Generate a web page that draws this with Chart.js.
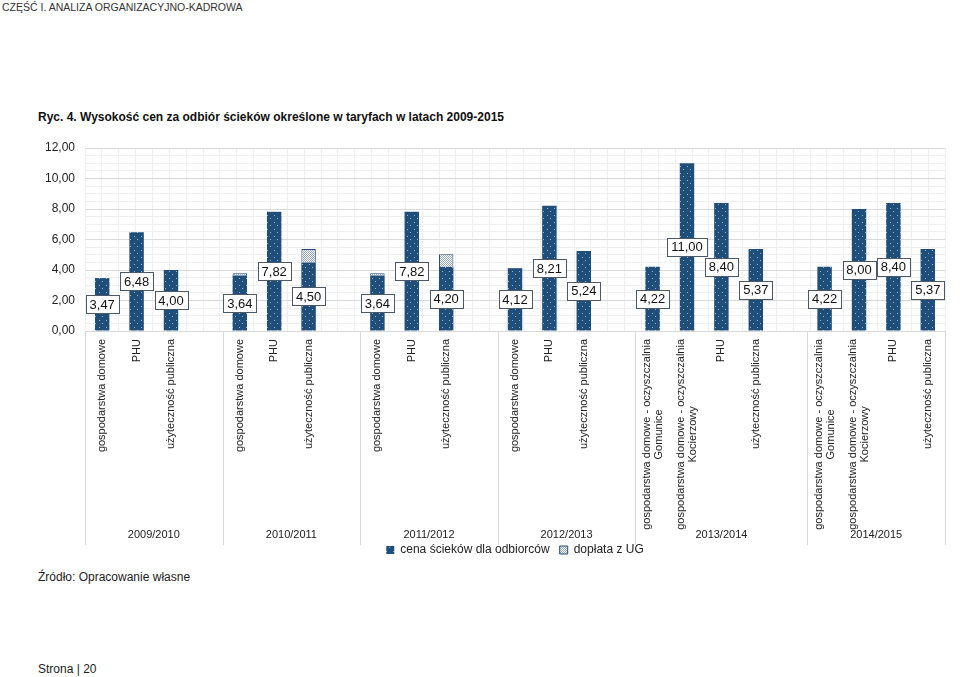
<!DOCTYPE html>
<html lang="pl">
<head>
<meta charset="utf-8">
<title>Ryc. 4. Wysokość cen za odbiór ścieków</title>
<script src="https://cdn.jsdelivr.net/npm/chart.js@4.4.1/dist/chart.umd.min.js"></script>
<style>
    body {
        margin: 0;
        width: 960px;
        height: 677px;
        position: relative;
        overflow: hidden;
        background: #fff;
        color: #222;
        font-family: 'Liberation Sans', Arial, sans-serif;
    }
    .txt {
        position: absolute;
        font-size: 12px;
        line-height: 14px;
        white-space: nowrap;
    }
    #header { left: 2px; top: 0; color: #333; font-size: 10.5px; }
    #title { left: 38px; top: 110px; font-weight: bold; color: #111; }
    #source { left: 38px; top: 570px; }
    #page { left: 38px; top: 662px; }
    #chartBox { position: absolute; left: 0; top: 130px; width: 960px; height: 436px; }
</style>
</head>
<body>
<div class="txt" id="header">CZĘŚĆ I. ANALIZA ORGANIZACYJNO-KADROWA</div>
<div class="txt" id="title">Ryc. 4. Wysokość cen za odbiór ścieków określone w taryfach w latach 2009-2015</div>
<div id="chartBox"><canvas id="priceChart"></canvas></div>
<div class="txt" id="source">Źródło: Opracowanie własne</div>
<div class="txt" id="page">Strona | 20</div>

<script>
const FONT = "'Liberation Sans', Arial, sans-serif";

// Categories (empty strings are the gaps between year groups)
const categories = [
    'gospodarstwa domowe', 'PHU', 'użyteczność publiczna', '',
    'gospodarstwa domowe', 'PHU', 'użyteczność publiczna', '',
    'gospodarstwa domowe', 'PHU', 'użyteczność publiczna', '',
    'gospodarstwa domowe', 'PHU', 'użyteczność publiczna', '',
    ['gospodarstwa domowe - oczyszczalnia', 'Gomunice'],
    ['gospodarstwa domowe - oczyszczalnia', 'Kocierzowy'],
    'PHU', 'użyteczność publiczna', '',
    ['gospodarstwa domowe - oczyszczalnia', 'Gomunice'],
    ['gospodarstwa domowe - oczyszczalnia', 'Kocierzowy'],
    'PHU', 'użyteczność publiczna'
];

const priceValues = [
    3.47, 6.48, 4.00, null,
    3.64, 7.82, 4.50, null,
    3.64, 7.82, 4.20, null,
    4.12, 8.21, 5.24, null,
    4.22, 11.00, 8.40, 5.37, null,
    4.22, 8.00, 8.40, 5.37
];

const subsidyValues = [
    null, null, null, null,
    0.14, null, 0.87, null,
    0.14, null, 0.84, null,
    null, null, null, null,
    null, null, null, null, null,
    null, null, null, null
];

const yearLabels = ['2009/2010', '2010/2011', '2011/2012', '2012/2013', '2013/2014', '2014/2015'];
const yearSlots = [4, 4, 4, 4, 5, 4];

const seriesNames = ['cena ścieków dla odbiorców', 'dopłata z UG'];

function dotPattern() {
    const c = document.createElement('canvas');
    c.width = 7;
    c.height = 7;
    const g = c.getContext('2d');
    g.fillStyle = '#1f4e79';
    g.fillRect(0, 0, 7, 7);
    g.fillStyle = '#8fb4d9';
    g.fillRect(1, 1, 1, 1);
    g.fillRect(4, 4, 1, 1);
    return g.createPattern(c, 'repeat');
}

function checkPattern() {
    const c = document.createElement('canvas');
    c.width = 2;
    c.height = 2;
    const g = c.getContext('2d');
    g.fillStyle = '#ffffff';
    g.fillRect(0, 0, 2, 2);
    g.fillStyle = '#93a5b8';
    g.fillRect(0, 0, 1, 1);
    g.fillRect(1, 1, 1, 1);
    return g.createPattern(c, 'repeat');
}

function fmt(v) {
    return v.toFixed(2).replace('.', ',');
}

// White boxes with the price value in the middle of each bar
const valueBoxes = {
    id: 'valueBoxes',
    afterDatasetsDraw(chart) {
        const ctx = chart.ctx;
        const meta = chart.getDatasetMeta(0);
        ctx.save();
        ctx.font = '13px ' + FONT;
        ctx.textAlign = 'center';
        ctx.textBaseline = 'middle';
        meta.data.forEach((bar, i) => {
            const v = priceValues[i];
            if (v === null) return;
            const text = fmt(v);
            const w = Math.round(ctx.measureText(text).width + 8);
            const h = 18;
            const cx = bar.x;
            const cy = (bar.y + bar.base) / 2;
            const bx = Math.round(cx - w / 2) + 0.5;
            const by = Math.round(cy - h / 2) + 0.5;
            ctx.fillStyle = '#ffffff';
            ctx.fillRect(bx, by, w, h);
            ctx.strokeStyle = '#4a5868';
            ctx.lineWidth = 1;
            ctx.strokeRect(bx, by, w, h);
            ctx.fillStyle = '#111';
            ctx.fillText(text, cx, cy + 1);
        });
        ctx.restore();
    }
};

// Rotated category labels, year groups and separators
const groupAxis = {
    id: 'groupAxis',
    afterDraw(chart) {
        const ctx = chart.ctx;
        const area = chart.chartArea;
        const x = chart.scales.x;
        ctx.save();
        ctx.fillStyle = '#222';
        ctx.font = '11px ' + FONT;
        ctx.textBaseline = 'middle';

        categories.forEach((label, i) => {
            if (!label) return;
            const lines = Array.isArray(label) ? label : [label];
            const w0 = ctx.measureText(lines[0]).width;
            ctx.save();
            ctx.translate(x.getPixelForValue(i), area.bottom + 8);
            ctx.rotate(-Math.PI / 2);
            lines.forEach((line, k) => {
                const dy = (k - (lines.length - 1) / 2) * 12;
                if (k === 0) {
                    ctx.textAlign = 'right';
                    ctx.fillText(line, 0, dy);
                } else {
                    ctx.textAlign = 'center';
                    ctx.fillText(line, -w0 / 2, dy);
                }
            });
            ctx.restore();
        });

        const half = (x.getPixelForValue(1) - x.getPixelForValue(0)) / 2;
        ctx.strokeStyle = '#d9d9d9';
        ctx.lineWidth = 1;
        ctx.textAlign = 'center';
        let start = 0;
        yearLabels.forEach((year, g) => {
            const left = x.getPixelForValue(start) - half;
            const right = x.getPixelForValue(start + yearSlots[g] - 1) + half;
            const edges = g === yearLabels.length - 1 ? [left, right] : [left];
            edges.forEach(px => {
                const sx = Math.round(px) + 0.5;
                ctx.beginPath();
                ctx.moveTo(sx, area.bottom);
                ctx.lineTo(sx, area.bottom + 214);
                ctx.stroke();
            });
            ctx.fillText(year, (left + right) / 2, area.bottom + 204);
            start += yearSlots[g];
        });
        ctx.restore();
    }
};

const ctx = document.getElementById('priceChart').getContext('2d');

new Chart(ctx, {
    type: 'bar',
    data: {
        labels: categories,
        datasets: [
            {
                label: seriesNames[0],
                data: priceValues,
                backgroundColor: dotPattern(),
                borderWidth: 0
            },
            {
                label: seriesNames[1],
                data: subsidyValues,
                backgroundColor: checkPattern(),
                borderColor: '#1f4e79',
                borderWidth: 1
            }
        ]
    },
    options: {
        responsive: true,
        maintainAspectRatio: false,
        animation: false,
        layout: {
            padding: { top: 18, right: 15, left: 0, bottom: 0 }
        },
        datasets: {
            bar: { barPercentage: 0.42, categoryPercentage: 1 }
        },
        scales: {
            x: {
                stacked: true,
                ticks: { display: false },
                grid: { display: false },
                border: { color: '#d9d9d9' },
                afterFit(scale) { scale.height = 203; }
            },
            xg: {
                type: 'linear',
                position: 'top',
                min: 0,
                max: 50,
                ticks: { display: false, stepSize: 1 },
                grid: { color: '#efefef', drawTicks: false },
                border: { display: false },
                afterFit(scale) { scale.height = 0; }
            },
            y: {
                stacked: true,
                min: 0,
                max: 12,
                ticks: {
                    stepSize: 0.5,
                    autoSkip: false,
                    padding: 10,
                    color: '#222',
                    font: { size: 12, family: FONT },
                    callback: v => (v % 2 === 0 ? fmt(v) : '')
                },
                grid: {
                    drawTicks: false,
                    color: c => (c.tick && c.tick.value % 2 === 0 ? '#d9d9d9' : '#efefef')
                },
                border: { display: false },
                afterFit(scale) { scale.width = 85; }
            }
        },
        plugins: {
            legend: {
                position: 'bottom',
                fullSize: false,
                labels: {
                    boxWidth: 8,
                    boxHeight: 8,
                    padding: 10,
                    color: '#222',
                    font: { size: 12, family: FONT }
                }
            },
            tooltip: { enabled: false }
        }
    },
    plugins: [valueBoxes, groupAxis]
});
</script>
</body>
</html>
